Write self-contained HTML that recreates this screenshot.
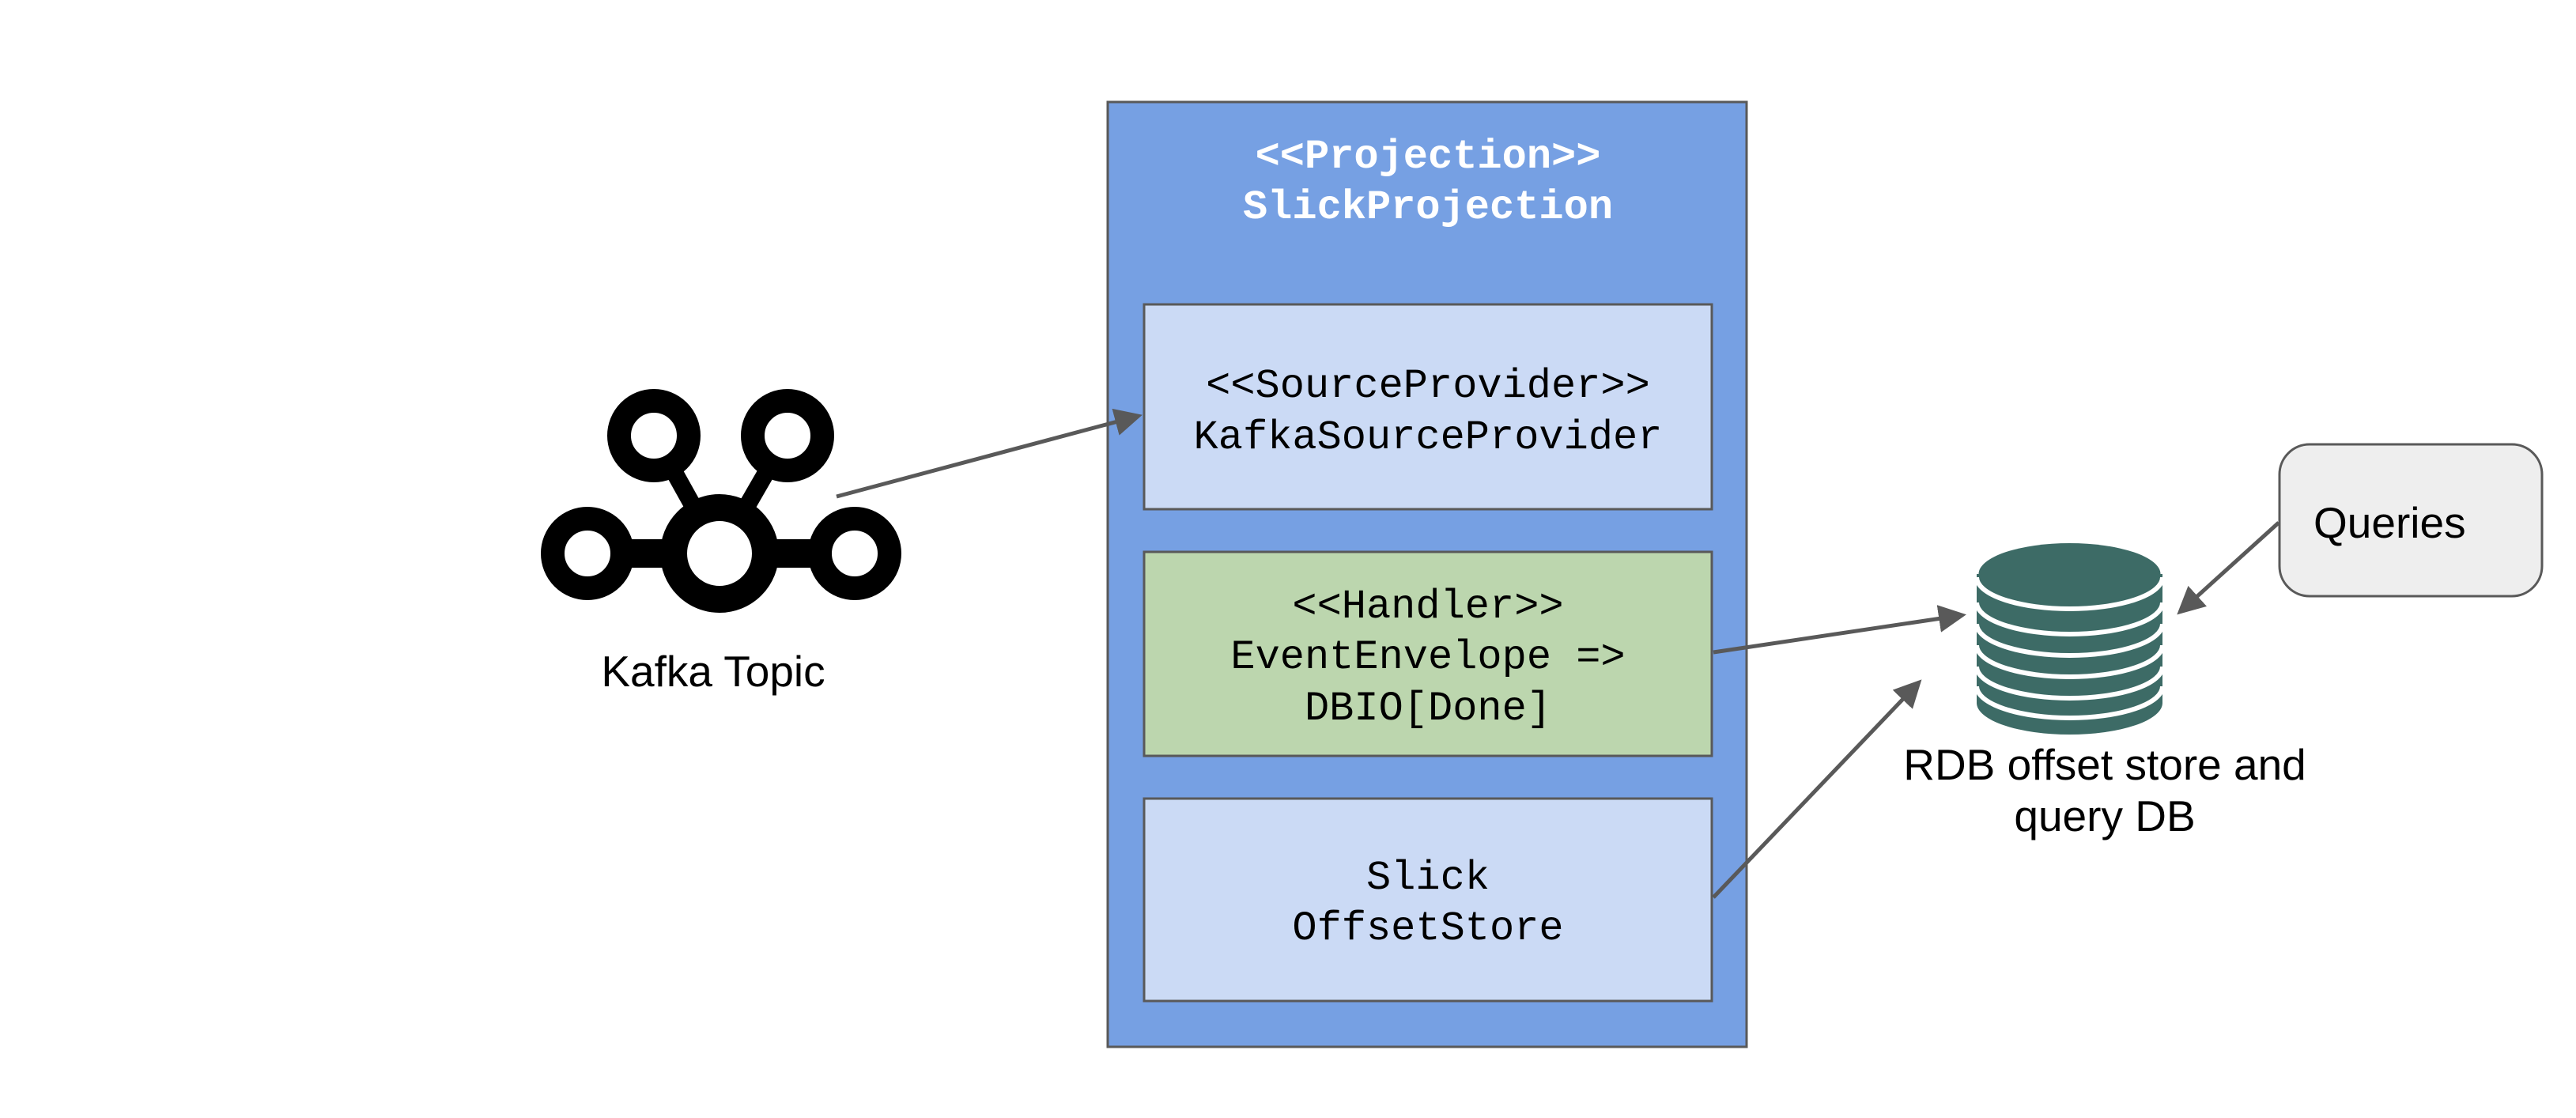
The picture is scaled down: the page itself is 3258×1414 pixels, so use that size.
<!DOCTYPE html>
<html><head><meta charset="utf-8"><style>html,body{margin:0;padding:0;background:#fff}svg{display:block}</style></head>
<body>
<svg width="3258" height="1414" viewBox="0 0 3258 1414" xmlns="http://www.w3.org/2000/svg">
<defs>
<marker id="ah" markerWidth="7" markerHeight="7" refX="6" refY="3.5" orient="auto" markerUnits="strokeWidth">
<path d="M0,0 L7,3.5 L0,7 z" fill="#595959"/>
</marker>
</defs>
<rect x="0" y="0" width="3258" height="1414" fill="#fff"/>
<rect x="1401" y="129" width="808" height="1195" fill="#76a0e3" stroke="#595959" stroke-width="3"/>
<g font-family="Liberation Mono, monospace" font-weight="bold" font-size="52" fill="#fff" text-anchor="middle">
<text x="1806" y="212">&lt;&lt;Projection&gt;&gt;</text>
<text x="1806" y="276">SlickProjection</text>
</g>
<rect x="1447" y="385" width="718" height="259" fill="#cbdaf5" stroke="#595959" stroke-width="3"/>
<rect x="1447" y="698" width="718" height="258" fill="#bcd6ae" stroke="#595959" stroke-width="3"/>
<rect x="1447" y="1010" width="718" height="256" fill="#cbdaf5" stroke="#595959" stroke-width="3"/>
<g font-family="Liberation Mono, monospace" font-size="52" fill="#000" text-anchor="middle">
<text x="1806" y="502">&lt;&lt;SourceProvider&gt;&gt;</text>
<text x="1806" y="567">KafkaSourceProvider</text>
<text x="1806" y="781">&lt;&lt;Handler&gt;&gt;</text>
<text x="1806" y="845">EventEnvelope =&gt;</text>
<text x="1806" y="910">DBIO[Done]</text>
<text x="1806" y="1124">Slick</text>
<text x="1806" y="1188">OffsetStore</text>
</g>
<g stroke="#000" fill="none">
<line x1="827" y1="551" x2="910" y2="700" stroke-width="22"/>
<line x1="996" y1="551" x2="910" y2="700" stroke-width="22"/>
<line x1="743" y1="700" x2="1081" y2="700" stroke-width="36"/>
<circle cx="910" cy="700" r="58" stroke-width="34" fill="#fff"/>
<circle cx="743" cy="700" r="44" stroke-width="30" fill="#fff"/>
<circle cx="1081" cy="700" r="44" stroke-width="30" fill="#fff"/>
<circle cx="827" cy="551" r="44" stroke-width="30" fill="#fff"/>
<circle cx="996" cy="551" r="44" stroke-width="30" fill="#fff"/>
</g>
<text x="902" y="868" font-family="Liberation Sans, sans-serif" font-size="55" text-anchor="middle" fill="#000">Kafka Topic</text>
<g>
<rect x="2500" y="726" width="235" height="163" fill="#3d6b66"/>
<ellipse cx="2617.5" cy="889" rx="117.5" ry="40" fill="#3d6b66"/>
<g fill="none" stroke="#fff" stroke-width="6">
<path d="M2500,730 A117.5,40 0 0 0 2735,730"/>
<path d="M2500,762 A117.5,40 0 0 0 2735,762"/>
<path d="M2500,789 A117.5,40 0 0 0 2735,789"/>
<path d="M2500,816 A117.5,40 0 0 0 2735,816"/>
<path d="M2500,843 A117.5,40 0 0 0 2735,843"/>
<path d="M2500,868 A117.5,40 0 0 0 2735,868"/>
</g>
<ellipse cx="2617.5" cy="726" rx="115" ry="39" fill="#3d6b66"/>
</g>
<g font-family="Liberation Sans, sans-serif" font-size="55" fill="#000" text-anchor="middle">
<text x="2662" y="986">RDB offset store and</text>
<text x="2662" y="1051">query DB</text>
</g>
<rect x="2883" y="562" width="332" height="192" rx="38" ry="38" fill="#eeeeee" stroke="#595959" stroke-width="3"/>
<text x="2926" y="680" font-family="Liberation Sans, sans-serif" font-size="55" fill="#000">Queries</text>
<g stroke="#595959" stroke-width="5" fill="none" marker-end="url(#ah)">
<line x1="1058" y1="628" x2="1440" y2="526"/>
<line x1="2167" y1="825" x2="2482" y2="778"/>
<line x1="2167" y1="1135" x2="2427" y2="863"/>
<line x1="2882" y1="661" x2="2757" y2="774"/>
</g>
</svg>
</body></html>
